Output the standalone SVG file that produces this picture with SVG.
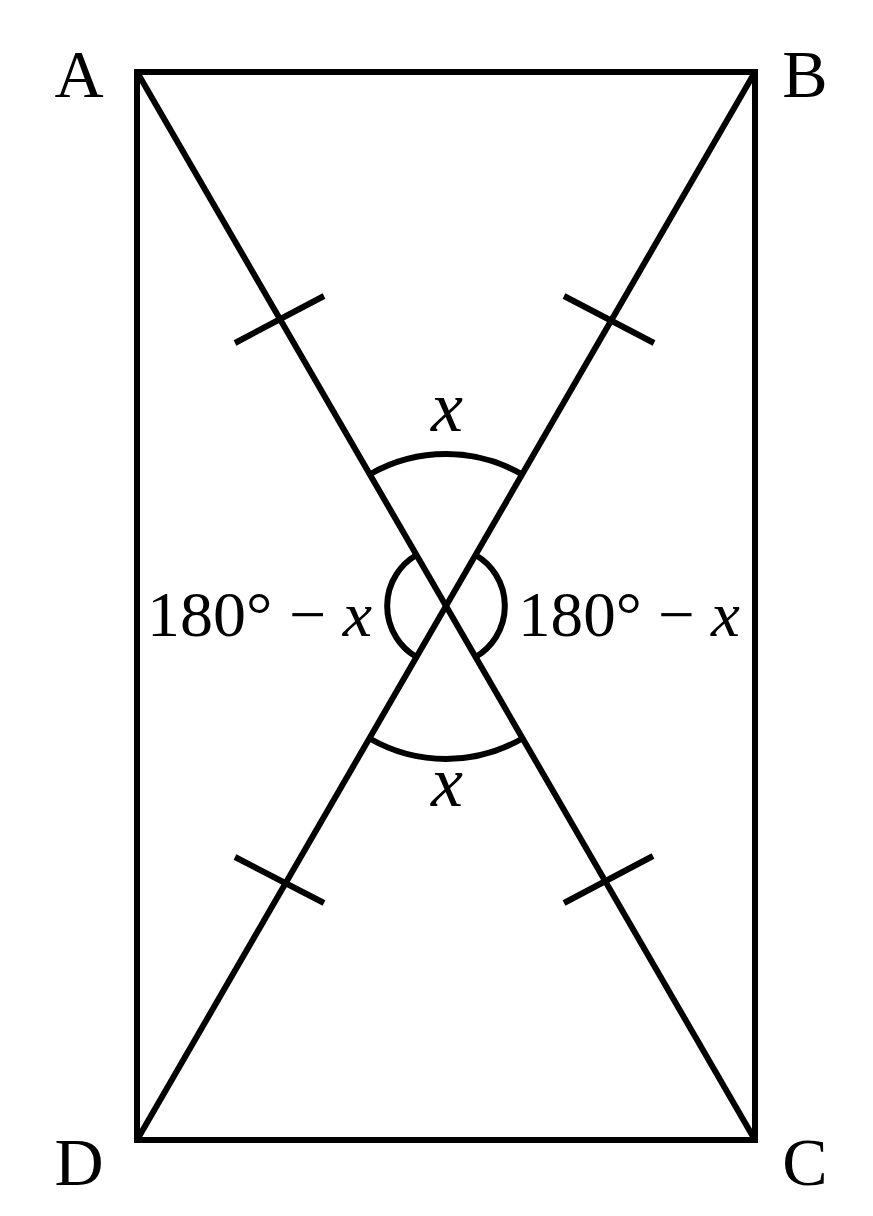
<svg xmlns="http://www.w3.org/2000/svg" width="873" height="1216" viewBox="0 0 873 1216">
<style>
.ln{stroke:#000;stroke-width:6;fill:none;stroke-linecap:butt}
.lbl{font-family:"Liberation Serif","DejaVu Serif",serif;font-size:68px;fill:#000}
.num{font-family:"Liberation Serif","DejaVu Serif",serif;font-size:64px;fill:#000}
.var{font-family:"Liberation Serif","DejaVu Serif",serif;font-style:italic;font-size:72px;fill:#000}
</style>
<rect width="873" height="1216" fill="#fff"/>
<g id="connectors">
<rect class="ln" x="137" y="72" width="618" height="1068"/>
<line class="ln" x1="137" y1="72" x2="755" y2="1140"/>
<line class="ln" x1="755" y1="72" x2="137" y2="1140"/>
<line class="ln" x1="235" y1="343" x2="324" y2="296"/>
<line class="ln" x1="564" y1="296" x2="654" y2="343"/>
<line class="ln" x1="235" y1="857" x2="324" y2="903"/>
<line class="ln" x1="564" y1="903" x2="653" y2="856"/>
<path class="ln" d="M370.5 474 A153 153 0 0 1 521.5 474"/>
<path class="ln" d="M370.5 739 A153 153 0 0 0 521.5 739"/>
<path class="ln" d="M416.5 555 A59 59 0 0 0 416.5 657"/>
<path class="ln" d="M475.5 555 A59 59 0 0 1 475.5 657"/>
</g>
<g id="A"><text class="lbl" x="79" y="97" text-anchor="middle">A</text></g>
<g id="B"><text class="lbl" x="805" y="97" text-anchor="middle">B</text></g>
<g id="C"><text class="lbl" x="805" y="1185" text-anchor="middle">C</text></g>
<g id="D"><text class="lbl" x="79" y="1185" text-anchor="middle">D</text></g>
<g id="angle-top"><text class="var" x="447" y="431" text-anchor="middle">x</text></g>
<g id="angle-bottom"><text class="var" x="447" y="806" text-anchor="middle">x</text></g>
<g id="angle-left"><text class="num" x="147" y="636" textLength="225" lengthAdjust="spacingAndGlyphs">180° − <tspan font-style="italic">x</tspan></text></g>
<g id="angle-right"><text class="num" x="518" y="636" textLength="222" lengthAdjust="spacingAndGlyphs">180° − <tspan font-style="italic">x</tspan></text></g>
</svg>
